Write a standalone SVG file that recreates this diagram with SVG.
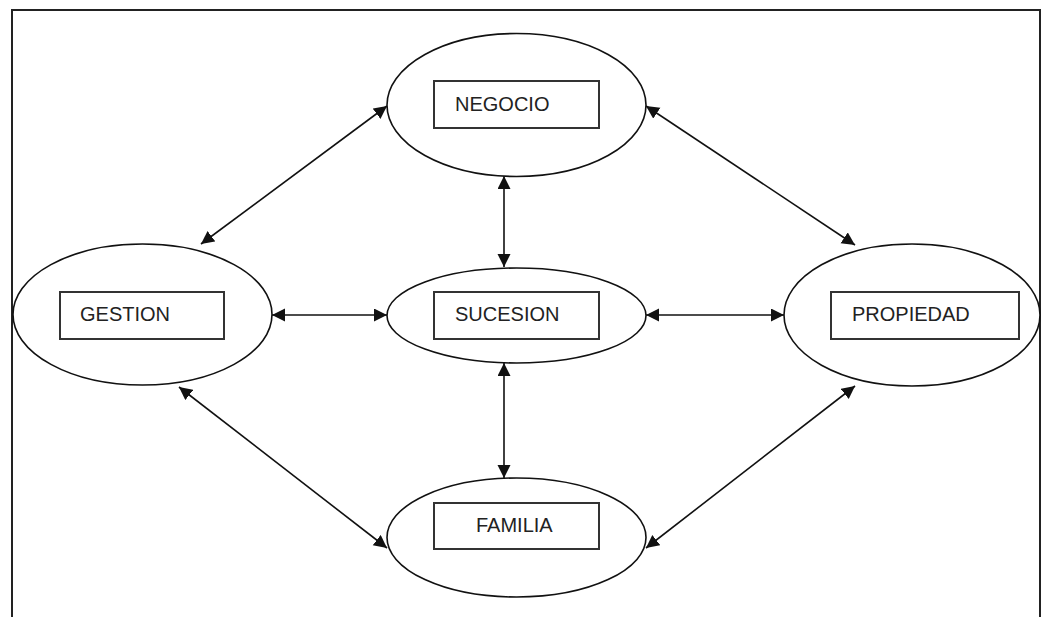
<svg xmlns="http://www.w3.org/2000/svg" width="1045" height="617" viewBox="0 0 1045 617">
<style>
.frame{fill:none;stroke:#222;stroke-width:2}
.ell{fill:#fff;stroke:#111;stroke-width:1.6}
.box{fill:#fff;stroke:#333;stroke-width:2}
.lbl{font-family:"Liberation Sans",Arial,sans-serif;font-size:20px;fill:#222}
.con{stroke:#111;stroke-width:1.6;fill:none;marker-start:url(#ah);marker-end:url(#ah)}
</style>
<defs>
<marker id="ah" markerUnits="userSpaceOnUse" markerWidth="14" markerHeight="14" refX="13" refY="6.5" orient="auto-start-reverse">
<path d="M0,0 L13,6.5 L0,13 z" fill="#111"/>
</marker>
</defs>
<path class="frame" d="M12,617 L12,10 L1040,10 L1040,617"/>
<g id="connectors">
<line class="con" x1="201" y1="244" x2="387" y2="106"/>
<line class="con" x1="646" y1="106" x2="855" y2="245"/>
<line class="con" x1="504" y1="176" x2="504" y2="267"/>
<line class="con" x1="504" y1="363" x2="504" y2="478"/>
<line class="con" x1="272" y1="315" x2="387" y2="315"/>
<line class="con" x1="646" y1="315" x2="784" y2="315"/>
<line class="con" x1="179" y1="387" x2="387" y2="548"/>
<line class="con" x1="855" y1="386" x2="646" y2="548"/>
</g>
<g id="negocio">
<ellipse class="ell" cx="516.5" cy="105" rx="129.5" ry="71.5"/>
<rect class="box" x="434" y="81" width="165" height="47"/>
<text class="lbl" x="455" y="111">NEGOCIO</text>
</g>
<g id="gestion">
<ellipse class="ell" cx="142.5" cy="314.5" rx="129.5" ry="70.5"/>
<rect class="box" x="60" y="292" width="164" height="47"/>
<text class="lbl" x="80" y="321">GESTION</text>
</g>
<g id="sucesion">
<ellipse class="ell" cx="516.5" cy="315.5" rx="129.5" ry="47.5"/>
<rect class="box" x="434" y="292" width="165" height="47"/>
<text class="lbl" x="455" y="321">SUCESION</text>
</g>
<g id="propiedad">
<ellipse class="ell" cx="912" cy="315" rx="128" ry="71"/>
<rect class="box" x="831" y="292" width="188" height="47"/>
<text class="lbl" x="852" y="321">PROPIEDAD</text>
</g>
<g id="familia">
<ellipse class="ell" cx="516.5" cy="537.5" rx="129.5" ry="59.5"/>
<rect class="box" x="434" y="503" width="165" height="46"/>
<text class="lbl" x="476" y="532">FAMILIA</text>
</g>
</svg>
